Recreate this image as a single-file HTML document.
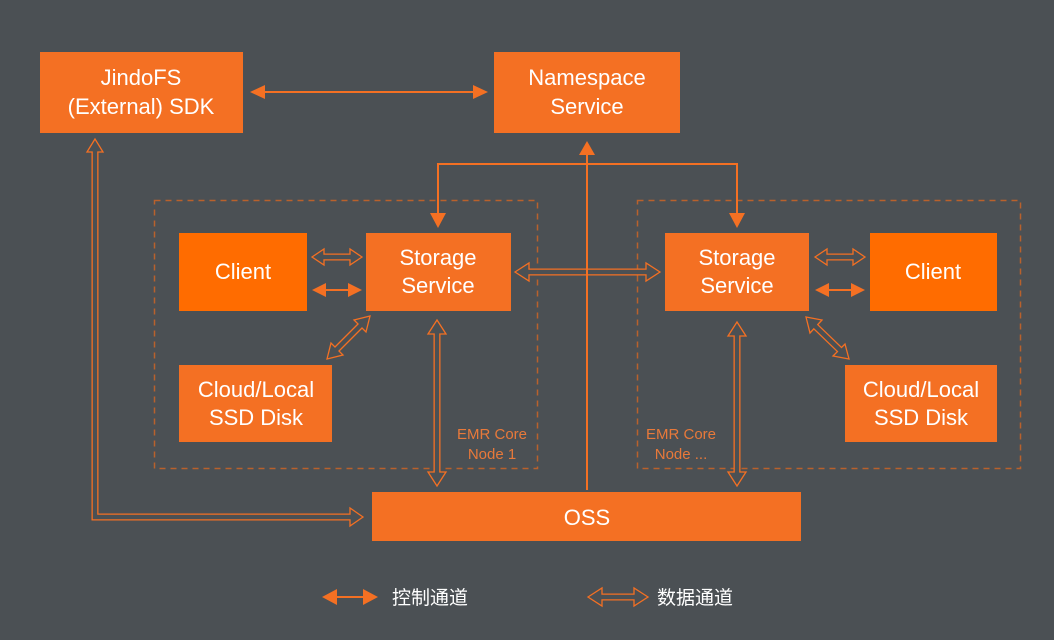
<!DOCTYPE html>
<html><head><meta charset="utf-8"><style>
html,body{margin:0;padding:0;background:#4b5054;}
svg{display:block}
text{font-family:"Liberation Sans","Noto Sans CJK SC",sans-serif;fill:#fff}
</style></head><body>
<svg width="1054" height="640" viewBox="0 0 1054 640" xmlns="http://www.w3.org/2000/svg">
<rect width="1054" height="640" fill="#4b5054"/>
<g fill="none" stroke="#b9612c" stroke-width="1.5" stroke-dasharray="6,5">
<rect x="154.5" y="200.5" width="383" height="268"/>
<rect x="637.5" y="200.5" width="383" height="268"/>
</g>
<g fill="#f47023">
<rect x="40" y="52" width="203" height="81"/>
<rect x="494" y="52" width="186" height="81"/>
<rect x="366" y="233" width="145" height="78"/>
<rect x="665" y="233" width="144" height="78"/>
<rect x="179" y="365" width="153" height="77"/>
<rect x="845" y="365" width="152" height="77"/>
<rect x="372" y="492" width="429" height="49"/>
</g>
<g fill="#ff6c00">
<rect x="179" y="233" width="128" height="78"/>
<rect x="870" y="233" width="127" height="78"/>
</g>
<g font-size="22" text-anchor="middle">
<text x="141" y="85">JindoFS</text><text x="141" y="114">(External) SDK</text>
<text x="587" y="85">Namespace</text><text x="587" y="114">Service</text>
<text x="438" y="265">Storage</text><text x="438" y="293">Service</text>
<text x="737" y="265">Storage</text><text x="737" y="293">Service</text>
<text x="243" y="279">Client</text><text x="933" y="279">Client</text>
<text x="256" y="397">Cloud/Local</text><text x="256" y="425">SSD Disk</text>
<text x="921" y="397">Cloud/Local</text><text x="921" y="425">SSD Disk</text>
<text x="587" y="525">OSS</text>
</g>
<g font-size="15" text-anchor="middle">
<text x="492" y="439" style="fill:#e8793a">EMR Core</text><text x="492" y="459" style="fill:#e8793a">Node 1</text>
<text x="681" y="439" style="fill:#e8793a">EMR Core</text><text x="681" y="459" style="fill:#e8793a">Node ...</text>
</g>
<g stroke="#f47023" stroke-width="2" fill="#f47023">
<line x1="262" y1="92" x2="476" y2="92"/>
<polygon points="250,92 265,85 265,99" stroke="none"/><polygon points="488,92 473,85 473,99" stroke="none"/>
<polyline points="438,226 438,164 737,164 737,226" fill="none"/>
<polygon points="430,213 446,213 438,228" stroke="none"/><polygon points="729,213 745,213 737,228" stroke="none"/>
<line x1="587" y1="150" x2="587" y2="490"/>
<polygon points="587,141 579,155 595,155" stroke="none"/>
<line x1="322" y1="290" x2="352" y2="290"/>
<polygon points="312,290 326,283 326,297" stroke="none"/><polygon points="362,290 348,283 348,297" stroke="none"/>
<line x1="825" y1="290" x2="855" y2="290"/>
<polygon points="815,290 829,283 829,297" stroke="none"/><polygon points="865,290 851,283 851,297" stroke="none"/>
<line x1="334" y1="597" x2="366" y2="597"/>
<polygon points="322,597 337,589 337,605" stroke="none"/><polygon points="378,597 363,589 363,605" stroke="none"/>
</g>
<g stroke="#f47023" stroke-width="1.3" fill="#4b5054">
<g stroke-width="7" fill="none">
<line x1="322" y1="257" x2="352" y2="257"/>
<line x1="825" y1="257" x2="855" y2="257"/>
<line x1="527" y1="272" x2="648" y2="272"/>
<line x1="437" y1="332" x2="437" y2="474"/>
<line x1="737" y1="334" x2="737" y2="474"/>
<line x1="336" y1="350" x2="361" y2="325"/>
<line x1="815" y1="326" x2="840" y2="350"/>
<polyline points="95,150 95,517 351,517"/>
<line x1="600" y1="597" x2="636" y2="597"/>
</g>
<polygon points="312,257 324,249 324,265"/><polygon points="362,257 350,249 350,265"/>
<polygon points="815,257 827,249 827,265"/><polygon points="865,257 853,249 853,265"/>
<polygon points="515,272 529,263 529,281"/><polygon points="660,272 646,263 646,281"/>
<polygon points="437,320 428,334 446,334"/><polygon points="437,486 428,472 446,472"/>
<polygon points="737,322 728,336 746,336"/><polygon points="737,486 728,472 746,472"/>
<polygon points="327,359 331,343 343,355"/><polygon points="370,316 366,332 354,320"/>
<polygon points="806,317 822,320 810,333"/><polygon points="849,359 833,356 845,344"/>
<polygon points="95,139 87,152 103,152"/><polygon points="363,517 350,508 350,526"/>
<polygon points="588,597 602,588 602,606"/><polygon points="648,597 634,588 634,606"/>
<g stroke="#4b5054" stroke-width="4.4" fill="none">
<line x1="323" y1="257" x2="351" y2="257"/>
<line x1="826" y1="257" x2="854" y2="257"/>
<line x1="528" y1="272" x2="647" y2="272"/>
<line x1="437" y1="333" x2="437" y2="473"/>
<line x1="737" y1="335" x2="737" y2="473"/>
<line x1="335" y1="351" x2="362" y2="324"/>
<line x1="814" y1="325" x2="841" y2="351"/>
<polyline points="95,151 95,517 352,517"/>
<line x1="601" y1="597" x2="635" y2="597"/>
</g>
</g>
<line x1="587" y1="262" x2="587" y2="282" stroke="#f47023" stroke-width="2"/>
<g font-size="19">
<text x="392" y="604">控制通道</text>
<text x="657" y="604">数据通道</text>
</g>
</svg>
</body></html>
